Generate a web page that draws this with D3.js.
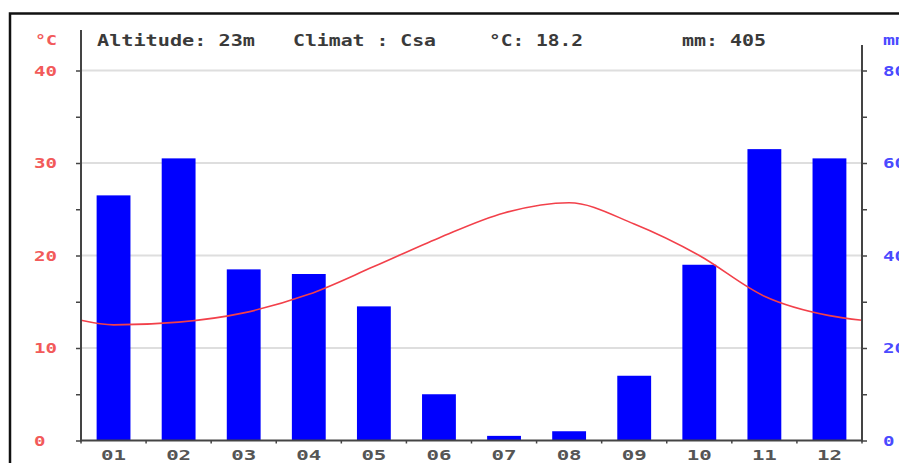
<!DOCTYPE html>
<html>
<head>
<meta charset="utf-8">
<script src="https://cdn.jsdelivr.net/npm/d3@7"></script>
<style>
  html, body { margin: 0; padding: 0; background: #fff; }
  svg { display: block; }
</style>
</head>
<body>
<svg id="chart" width="899" height="463"></svg>
<script>
// Monthly climate data
const months = ["01","02","03","04","05","06","07","08","09","10","11","12"];
const precipitation = [53, 61, 37, 36, 29, 10, 1, 2, 14, 38, 63, 61];           // mm
const temperature = [12.5, 12.8, 13.8, 15.8, 18.8, 21.9, 24.6, 25.7, 23.4, 20.0, 15.6, 13.5]; // °C
const tempTicks = [0, 10, 20, 30, 40];
const tempMinorTicks = [5, 15, 25, 35];
const precTicks = [0, 20, 40, 60, 80];
const header = [
  { text: "Altitude: 23m", x: 97, w: 158 },
  { text: "Climat : Csa", x: 293, w: 143 },
  { text: "°C: 18.2", x: 489, w: 94 },
  { text: "mm: 405", x: 682, w: 84 }
];

const svg = d3.select("#chart");
const font = "'DejaVu Sans Mono', monospace";
const plotLeft = 81, plotRight = 862, plotTop = 70.5, plotBottom = 440.5;

// Frame
svg.append("rect")
  .attr("x", 10).attr("y", 13.5)
  .attr("width", 920).attr("height", 500)
  .attr("fill", "none").attr("stroke", "#111").attr("stroke-width", 2.5);

const x = d3.scaleBand().domain(months).range([plotLeft, plotRight])
  .paddingInner(0.48).paddingOuter(0.24);
const yT = d3.scaleLinear().domain([0, 40]).range([plotBottom, plotTop]);
const yP = d3.scaleLinear().domain([0, 80]).range([plotBottom, plotTop]);

// Horizontal grid
svg.append("g").selectAll("line").data(tempTicks.slice(1)).join("line")
  .attr("x1", plotLeft).attr("x2", plotRight)
  .attr("y1", d => yT(d)).attr("y2", d => yT(d))
  .attr("stroke", "#dedede").attr("stroke-width", 2);

// Precipitation bars
svg.append("g").selectAll("rect").data(months).join("rect")
  .attr("x", d => x(d))
  .attr("width", x.bandwidth())
  .attr("y", (d, i) => yP(precipitation[i]))
  .attr("height", (d, i) => yP(0) - yP(precipitation[i]))
  .attr("fill", "#0000ff");

// Temperature line, closed on both axes with the Dec/Jan mean
const edge = (temperature[0] + temperature[11]) / 2;
const linePts = [[plotLeft, edge]]
  .concat(months.map((m, i) => [x(m) + x.bandwidth() / 2, temperature[i]]))
  .concat([[plotRight, edge]]);
svg.append("path")
  .datum(linePts)
  .attr("d", d3.line().curve(d3.curveMonotoneX).x(d => d[0]).y(d => yT(d[1])))
  .attr("fill", "none").attr("stroke", "#f2404a").attr("stroke-width", 1.6);

// Left temperature axis
const axisL = svg.append("g").attr("transform", `translate(${plotLeft},0)`)
  .call(d3.axisLeft(yT).tickValues(tempTicks.concat(tempMinorTicks)).tickSize(5).tickFormat(""));
axisL.select(".domain").remove();
axisL.selectAll("line").attr("stroke", "#444").attr("stroke-width", 1.5);
svg.append("line").attr("x1", plotLeft).attr("x2", plotLeft).attr("y1", 30).attr("y2", plotBottom + 1)
  .attr("stroke", "#444").attr("stroke-width", 2);

// Right precipitation axis
const axisR = svg.append("g").attr("transform", `translate(${plotRight},0)`)
  .call(d3.axisRight(yP).tickValues(d3.range(0, 81, 10)).tickSize(5).tickFormat(""));
axisR.select(".domain").remove();
axisR.selectAll("line").attr("stroke", "#444").attr("stroke-width", 1.5);
svg.append("line").attr("x1", plotRight).attr("x2", plotRight).attr("y1", 45).attr("y2", plotBottom + 1)
  .attr("stroke", "#444").attr("stroke-width", 2);

// Bottom axis with ticks on month boundaries
svg.append("line").attr("x1", plotLeft).attr("x2", plotRight).attr("y1", plotBottom).attr("y2", plotBottom)
  .attr("stroke", "#444").attr("stroke-width", 2);
svg.append("g").selectAll("line").data(d3.range(months.length + 1)).join("line")
  .attr("x1", i => plotLeft + i * x.step()).attr("x2", i => plotLeft + i * x.step())
  .attr("y1", plotBottom).attr("y2", plotBottom + 3)
  .attr("stroke", "#444").attr("stroke-width", 1.5);

// Tick labels
svg.append("g").selectAll("text").data(tempTicks).join("text")
  .attr("x", 34).attr("y", d => yT(d) + 5)
  .attr("textLength", d => String(d).length * 11.5).attr("lengthAdjust", "spacingAndGlyphs")
  .attr("font-family", font).attr("font-size", 14).attr("font-weight", "bold").attr("fill", "#f25a5a")
  .text(d => d);
svg.append("g").selectAll("text").data(precTicks).join("text")
  .attr("x", 883).attr("y", d => yP(d) + 5)
  .attr("textLength", d => String(d).length * 11.5).attr("lengthAdjust", "spacingAndGlyphs")
  .attr("font-family", font).attr("font-size", 14).attr("font-weight", "bold").attr("fill", "#4a4aff")
  .text(d => d);
svg.append("g").selectAll("text").data(months).join("text")
  .attr("x", d => x(d) + x.bandwidth() / 2).attr("y", 460)
  .attr("text-anchor", "middle")
  .attr("textLength", 25).attr("lengthAdjust", "spacingAndGlyphs")
  .attr("font-family", font).attr("font-size", 14).attr("font-weight", "bold").attr("fill", "#555")
  .text(d => d);

// Unit labels
svg.append("text").attr("x", 35).attr("y", 45)
  .attr("textLength", 22).attr("lengthAdjust", "spacingAndGlyphs")
  .attr("font-family", font).attr("font-size", 14).attr("font-weight", "bold").attr("fill", "#f25a5a").text("°C");
svg.append("text").attr("x", 883).attr("y", 45)
  .attr("textLength", 24).attr("lengthAdjust", "spacingAndGlyphs")
  .attr("font-family", font).attr("font-size", 14).attr("font-weight", "bold").attr("fill", "#4a4aff").text("mm");

// Header
svg.append("g").selectAll("text").data(header).join("text")
  .attr("x", d => d.x).attr("y", 46)
  .attr("textLength", d => d.w).attr("lengthAdjust", "spacingAndGlyphs")
  .attr("font-family", font).attr("font-size", 15).attr("font-weight", "bold").attr("fill", "#3a3a3a")
  .text(d => d.text);
</script>
</body>
</html>
